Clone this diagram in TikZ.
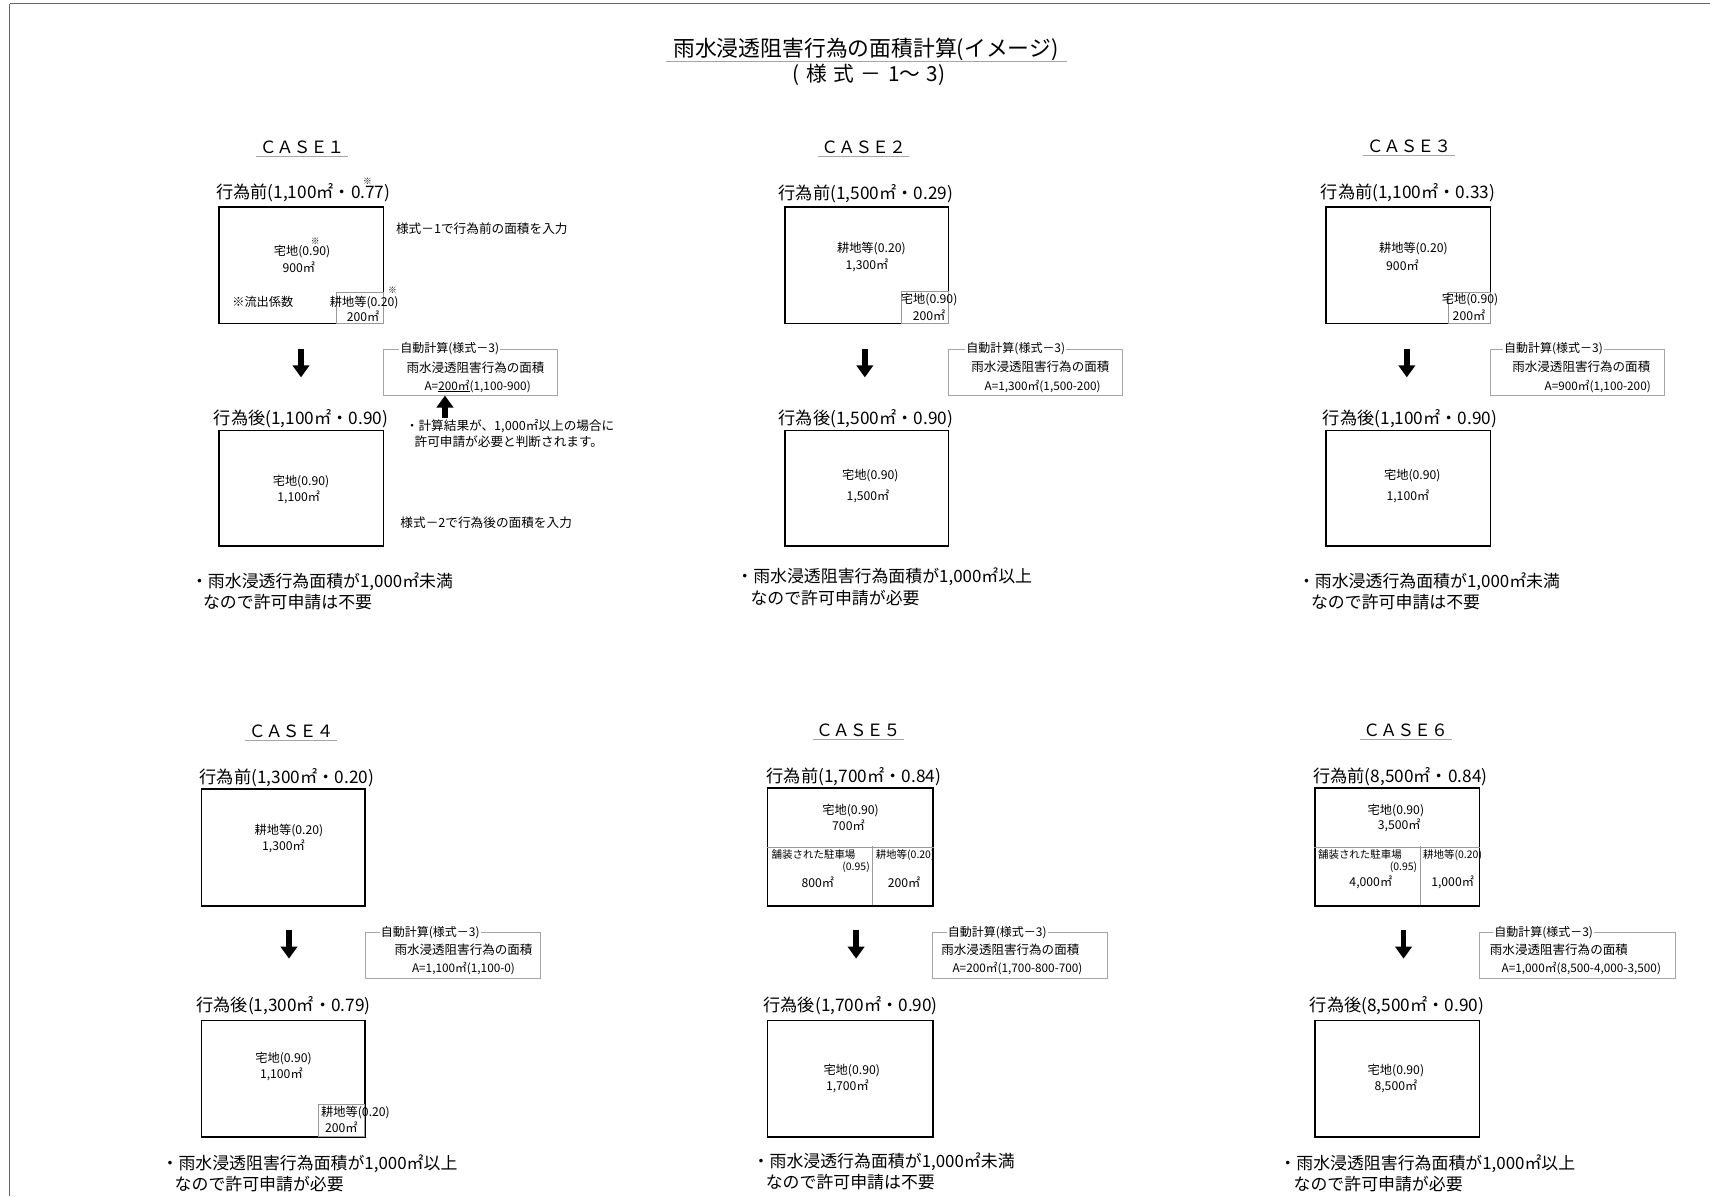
\documentclass[tikz,border=0pt]{standalone}
\usepackage{fontspec}
\setmainfont{Noto Sans CJK JP}
\usetikzlibrary{arrows.meta}
\newcommand\myfs[1]{\fontsize{#1}{#1}\selectfont}
\newcommand\gap{\hspace{6pt}}
\tikzset{
  bigbox/.style={draw=black, line width=1.5pt, inner sep=0, anchor=north west},
  subbox/.style={draw=gray!80, line width=0.6pt, inner sep=0, anchor=north west},
  calcbox/.style={draw=gray!70, line width=0.7pt, inner sep=0, anchor=north west},
  legend/.style={fill=white, inner sep=1pt, anchor=west, font=\myfs{11}},
  calctxt/.style={inner sep=0, font=\myfs{11.5}},
  calcsm/.style={inner sep=0, font=\myfs{10.8}},
  head/.style={font=\myfs{15.8}, inner sep=0},
  casehd/.style={font=\myfs{15.5}, inner xsep=3pt, inner ysep=2pt},
  small/.style={font=\myfs{11.2}, inner sep=0},
  tinytxt/.style={font=\myfs{9.6}, inner sep=0},
  kome/.style={font=\myfs{8}, inner sep=0},
  note/.style={font=\myfs{11.6}, inner sep=0, anchor=west},
  concl/.style={font=\myfs{15.5}, inner sep=0, anchor=west},
  uline/.style={draw=gray!70, line width=0.6pt},
  subline/.style={draw=gray!80, line width=0.6pt},
  frameline/.style={draw=gray!80!black, line width=0.8pt},
  blockarrow/.style={line width=5pt, -{Triangle[width=15pt,length=11pt]}},
}
\begin{document}
\begin{tikzpicture}[x=1pt,y=-1pt]
\useasboundingbox (0,0) rectangle (1568,1097);
\fill[white] (0,0) rectangle (1568,1097);
% frame
\draw[frameline] (9,3.5) -- (1568,3.5);
\draw[frameline] (9,3.5) -- (9,1097);

% title
\node[font=\myfs{20}, inner sep=0] (title) at (794,45) {雨水浸透阻害行為の面積計算(イメージ)};
\draw[uline] (611,56) -- (978,56);
\node[font=\myfs{19}, inner sep=0] (subtitle) at (797,69) {(\gap 様\gap 式\gap －\gap 1～\gap 3)};

%%%%%%%%%%%%%%%% CASE 1
\node[casehd] (h1) at (277,135) {ＣＡＳＥ１};
\draw[uline] (h1.south west) -- (h1.south east);
\node[head] (p1) at (278,177) {行為前(1,100㎡・0.77)};
\node[kome] (k1a) at (337,166) {※};
\node[bigbox, minimum width=151pt, minimum height=107pt] (b1) at (200,189) {};
\node[subbox, minimum width=43pt, minimum height=28pt] (s1) at (308,268) {};
\node[small] (t1a) at (277,231) {宅地(0.90)};
\node[kome] (k1b) at (289,221) {※};
\node[small] (t1b) at (274,245) {900㎡};
\node[small] (t1c) at (241,277) {※流出係数};
\node[small] (t1d) at (334,277) {耕地等(0.20)};
\node[kome] (k1c) at (360,266) {※};
\node[small] (t1e) at (333,290) {200㎡};
\node[note] (n1a) at (363,210) {様式－1で行為前の面積を入力};
\coordinate (d1s) at (276,320);
\coordinate (d1e) at (276,346);
\draw[blockarrow] (d1s) -- (d1e);
\node[calcbox, minimum width=160pt, minimum height=42pt] (c1) at (351,320) {};
\node[legend] (l1) at (366,320) {自動計算(様式－3)};
\node[calctxt] (c1a) at (436,337) {雨水浸透阻害行為の面積};
\node[calcsm] (c1b) at (438,354) {A=\underline{200㎡}(1,100-900)};
\coordinate (u1) at (408,383);
\draw[blockarrow] (u1) -- (u1 |- c1.south);
\node[head] (q1) at (276,384) {行為後(1,100㎡・0.90)};
\node[bigbox, minimum width=151pt, minimum height=106pt] (a1) at (200,394) {};
\node[small] (t1f) at (276,442) {宅地(0.90)};
\node[small] (t1g) at (274,456) {1,100㎡};
\node[note] (n1b) at (372,391) {・計算結果が、1,000㎡以上の場合に};
\node[note] (n1c) at (380,405) {許可申請が必要と判断されます。};
\node[note] (n1d) at (367,479) {様式－2で行為後の面積を入力};
\node[concl] (r1a) at (175,533) {・雨水浸透行為面積が1,000㎡未満};
\node[concl] (r1b) at (186,552) {なので許可申請は不要};

%%%%%%%%%%%%%%%% CASE 2
\node[casehd] (h2) at (792,135) {ＣＡＳＥ２};
\draw[uline] (h2.south west) -- (h2.south east);
\node[head] (p2) at (794,178) {行為前(1,500㎡・0.29)};
\node[bigbox, minimum width=150pt, minimum height=107pt] (b2) at (719,189) {};
\node[subbox, minimum width=43pt, minimum height=29pt] (s2) at (826,267) {};
\node[small] (t2a) at (799,228) {耕地等(0.20)};
\node[small] (t2b) at (795,243) {1,300㎡};
\node[small] (t2c) at (852,275) {宅地(0.90)};
\node[small] (t2d) at (852,289) {200㎡};
\coordinate (d2s) at (793,320);
\coordinate (d2e) at (793,346);
\draw[blockarrow] (d2s) -- (d2e);
\node[calcbox, minimum width=160pt, minimum height=42pt] (c2) at (869,320) {};
\node[legend] (l2) at (885,320) {自動計算(様式－3)};
\node[calctxt] (c2a) at (954,336) {雨水浸透阻害行為の面積};
\node[calcsm] (c2b) at (956,354) {A=1,300㎡(1,500-200)};
\node[head] (q2) at (794,384) {行為後(1,500㎡・0.90)};
\node[bigbox, minimum width=150pt, minimum height=106pt] (a2) at (719,394) {};
\node[small] (t2e) at (798,436) {宅地(0.90)};
\node[small] (t2f) at (796,455) {1,500㎡};
\node[concl] (r2a) at (675,529) {・雨水浸透阻害行為面積が1,000㎡以上};
\node[concl] (r2b) at (688,548) {なので許可申請が必要};

%%%%%%%%%%%%%%%% CASE 3
\node[casehd] (h3) at (1292,134) {ＣＡＳＥ３};
\draw[uline] (h3.south west) -- (h3.south east);
\node[head] (p3) at (1291,177) {行為前(1,100㎡・0.33)};
\node[bigbox, minimum width=151pt, minimum height=107pt] (b3) at (1215,189) {};
\node[subbox, minimum width=38pt, minimum height=28pt] (s3) at (1328,268) {};
\node[small] (t3a) at (1296,228) {耕地等(0.20)};
\node[small] (t3b) at (1286,243) {900㎡};
\node[small] (t3c) at (1348,275) {宅地(0.90)};
\node[small] (t3d) at (1347,289) {200㎡};
\coordinate (d3s) at (1290,320);
\coordinate (d3e) at (1290,346);
\draw[blockarrow] (d3s) -- (d3e);
\node[calcbox, minimum width=160pt, minimum height=42pt] (c3) at (1366,320) {};
\node[legend] (l3) at (1378,320) {自動計算(様式－3)};
\node[calctxt] (c3a) at (1450,336) {雨水浸透阻害行為の面積};
\node[calcsm] (c3b) at (1465,354) {A=900㎡(1,100-200)};
\node[head] (q3) at (1293,384) {行為後(1,100㎡・0.90)};
\node[bigbox, minimum width=151pt, minimum height=106pt] (a3) at (1215,394) {};
\node[small] (t3e) at (1295,436) {宅地(0.90)};
\node[small] (t3f) at (1291,455) {1,100㎡};
\node[concl] (r3a) at (1190,533) {・雨水浸透行為面積が1,000㎡未満};
\node[concl] (r3b) at (1202,552) {なので許可申請は不要};

%%%%%%%%%%%%%%%% CASE 4
\node[casehd] (h4) at (267,671) {ＣＡＳＥ４};
\draw[uline] (h4.south west) -- (h4.south east);
\node[head] (p4) at (263,713) {行為前(1,300㎡・0.20)};
\node[bigbox, minimum width=150pt, minimum height=107pt] (b4) at (184,723) {};
\node[small] (t4a) at (265,762) {耕地等(0.20)};
\node[small] (t4b) at (260,776) {1,300㎡};
\coordinate (d4s) at (265,853);
\coordinate (d4e) at (265,879);
\draw[blockarrow] (d4s) -- (d4e);
\node[calcbox, minimum width=160pt, minimum height=42pt] (c4) at (335,855) {};
\node[legend] (l4) at (348,855) {自動計算(様式－3)};
\node[calctxt] (c4a) at (425,871) {雨水浸透阻害行為の面積};
\node[calcsm] (c4b) at (425,888) {A=1,100㎡(1,100-0)};
\node[head] (q4) at (260,922) {行為後(1,300㎡・0.79)};
\node[bigbox, minimum width=150pt, minimum height=107pt] (a4) at (184,935) {};
\node[subbox, minimum width=42pt, minimum height=30pt] (s4) at (292,1012) {};
\node[small] (t4c) at (260,971) {宅地(0.90)};
\node[small] (t4d) at (258,985) {1,100㎡};
\node[small] (t4e) at (326,1020) {耕地等(0.20)};
\node[small] (t4f) at (313,1034) {200㎡};
\node[concl] (r4a) at (148,1067) {・雨水浸透阻害行為面積が1,000㎡以上};
\node[concl] (r4b) at (160,1086) {なので許可申請が必要};

%%%%%%%%%%%%%%%% CASE 5
\node[casehd] (h5) at (787,670) {ＣＡＳＥ５};
\draw[uline] (h5.south west) -- (h5.south east);
\node[head] (p5) at (783,712) {行為前(1,700㎡・0.84)};
\node[bigbox, minimum width=152pt, minimum height=108pt] (b5) at (703,722) {};
\draw[subline] (b5.west) -- (b5.east);
\draw[subline] (800,776) -- (800,830);
\node[small] (t5a) at (780,743) {宅地(0.90)};
\node[small] (t5b) at (778,757) {700㎡};
\node[tinytxt] (t5c) at (746,784) {舗装された駐車場};
\node[tinytxt] (t5d) at (785,795) {(0.95)};
\node[small] (t5e) at (750,809) {800㎡};
\node[tinytxt] (t5f) at (830,784) {耕地等(0.20)};
\node[small] (t5g) at (829,809) {200㎡};
\coordinate (d5s) at (785,853);
\coordinate (d5e) at (785,879);
\draw[blockarrow] (d5s) -- (d5e);
\node[calcbox, minimum width=160pt, minimum height=42pt] (c5) at (855,855) {};
\node[legend] (l5) at (868,855) {自動計算(様式－3)};
\node[calctxt, anchor=west] (c5a) at (863,871) {雨水浸透阻害行為の面積};
\node[calcsm] (c5b) at (933,888) {A=200㎡(1,700-800-700)};
\node[head] (q5) at (780,922) {行為後(1,700㎡・0.90)};
\node[bigbox, minimum width=152pt, minimum height=107pt] (a5) at (703,935) {};
\node[small] (t5h) at (781,982) {宅地(0.90)};
\node[small] (t5i) at (777,996) {1,700㎡};
\node[concl] (r5a) at (690,1065) {・雨水浸透行為面積が1,000㎡未満};
\node[concl] (r5b) at (702,1084) {なので許可申請は不要};

%%%%%%%%%%%%%%%% CASE 6
\node[casehd] (h6) at (1289,670) {ＣＡＳＥ６};
\draw[uline] (h6.south west) -- (h6.south east);
\node[head] (p6) at (1284,712) {行為前(8,500㎡・0.84)};
\node[bigbox, minimum width=151pt, minimum height=108pt] (b6) at (1205,722) {};
\draw[subline] (b6.west) -- (b6.east);
\draw[subline] (1302,776) -- (1302,830);
\node[small] (t6a) at (1280,743) {宅地(0.90)};
\node[small] (t6b) at (1283,757) {3,500㎡};
\node[tinytxt] (t6c) at (1247,784) {舗装された駐車場};
\node[tinytxt] (t6d) at (1287,795) {(0.95)};
\node[small] (t6e) at (1257,809) {4,000㎡};
\node[tinytxt] (t6f) at (1332,784) {耕地等(0.20)};
\node[small] (t6g) at (1332,809) {1,000㎡};
\coordinate (d6s) at (1287,853);
\coordinate (d6e) at (1287,879);
\draw[blockarrow] (d6s) -- (d6e);
\node[calcbox, minimum width=180pt, minimum height=42pt] (c6) at (1356,855) {};
\node[legend] (l6) at (1369,855) {自動計算(様式－3)};
\node[calctxt, anchor=west] (c6a) at (1366,871) {雨水浸透阻害行為の面積};
\node[calcsm] (c6b) at (1450,888) {A=1,000㎡(8,500-4,000-3,500)};
\node[head] (q6) at (1281,922) {行為後(8,500㎡・0.90)};
\node[bigbox, minimum width=151pt, minimum height=107pt] (a6) at (1205,935) {};
\node[small] (t6h) at (1280,982) {宅地(0.90)};
\node[small] (t6i) at (1280,996) {8,500㎡};
\node[concl] (r6a) at (1173,1067) {・雨水浸透阻害行為面積が1,000㎡以上};
\node[concl] (r6b) at (1186,1086) {なので許可申請が必要};
\end{tikzpicture}
\end{document}
